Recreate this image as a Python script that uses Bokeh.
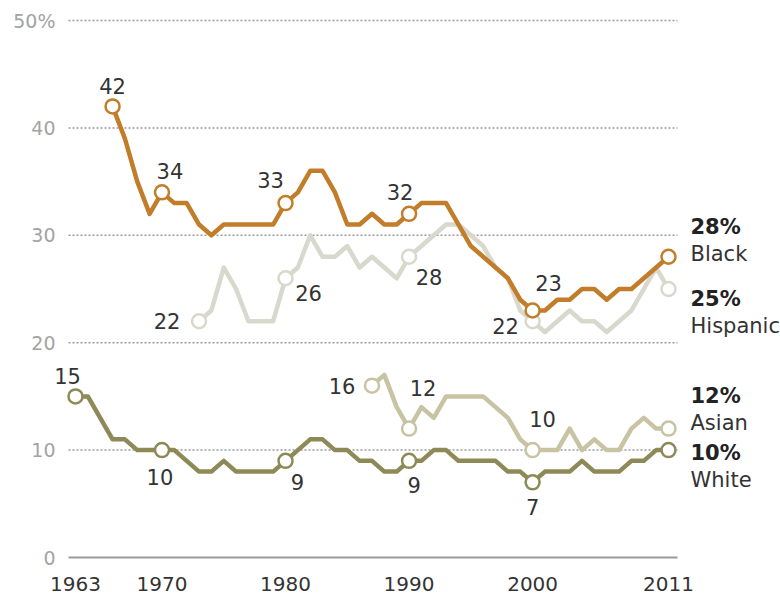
from bokeh.plotting import figure
from bokeh.models import Range1d, ColumnDataSource, LabelSet, Label
from bokeh.core.properties import value
from bokeh.embed import file_html
from bokeh.resources import INLINE

# ---- data (percent) ----
black_years = list(range(1966, 2012))
black = [42, 39, 35, 32, 34, 33, 33, 31, 30, 31, 31, 31, 31, 31, 33, 34, 36, 36, 34, 31,
         31, 32, 31, 31, 32, 33, 33, 33, 31, 29, 28, 27, 26, 24, 23, 23, 24, 24, 25, 25,
         24, 25, 25, 26, 27, 28]
hispanic_years = list(range(1973, 2012))
hispanic = [22, 23, 27, 25, 22, 22, 22, 26, 27, 30, 28, 28, 29, 27, 28, 27, 26, 28, 29, 30,
            31, 31, 30, 29, 27, 26, 23, 22, 21, 22, 23, 22, 22, 21, 22, 23, 25, 27, 25]
asian_years = list(range(1987, 2012))
asian = [16, 17, 14, 12, 14, 13, 15, 15, 15, 15, 14, 13, 11, 10, 10, 10, 12, 10, 11, 10,
         10, 12, 13, 12, 12]
white_years = list(range(1963, 2012))
white = [15, 15, 13, 11, 11, 10, 10, 10, 10, 9, 8, 8, 9, 8, 8, 8, 8, 9, 10, 11,
         11, 10, 10, 9, 9, 8, 8, 9, 9, 10, 10, 9, 9, 9, 9, 8, 8, 7, 8, 8,
         8, 9, 8, 8, 8, 9, 9, 10, 10]

marked_black = [1966, 1970, 1980, 1990, 2000]
marked_hispanic = [1973, 1980, 1990, 2000]
marked_asian = [1987, 1990, 2000]
marked_white = [1963, 1970, 1980, 1990, 2000]

x_ticks = [1963, 1970, 1980, 1990, 2000, 2011]
y_ticks = [0, 10, 20, 30, 40, 50]
y_tick_labels = ["0", "10", "20", "30", "40", "50%"]

# ---- style ----
FONT = "DejaVu Sans"
C_BLACK = "#c27d2a"
C_HISP = "#d8d8cc"
C_ASIAN = "#c8c3a2"
C_WHITE = "#8e8a58"
TXT = "#333333"

# label offsets (screen px, x right / y up) for marked points
off_black = [(0, 20), (8, 21), (-15, 23), (-9, 22), (16, 27)]
off_hisp = [(-32, 0), (23, -15), (20, -20), (-27, -5)]
off_asian = [(-30, 0), (14, 41), (10, 31)]
off_white = [(-8, 20), (-2, -27), (12, -21), (5, -24), (0, -25)]

# end labels: (pct y offset, name y offset)
end_offsets = {"Black": (30, 3), "Hispanic": (-10, -37), "Asian": (33, 6), "White": (-3, -30)}

W, H = 780, 597
X_FIRST_PX, X_LAST_PX = 75, 668
Y_ZERO_PX, Y_TOP_PX = 557, 20
PXY = (X_LAST_PX - X_FIRST_PX) / (x_ticks[-1] - x_ticks[0])
PXU = (Y_ZERO_PX - Y_TOP_PX) / (y_ticks[-1] - y_ticks[0])

x_start = x_ticks[0] - X_FIRST_PX / PXY
x_end = x_ticks[0] + (W - X_FIRST_PX) / PXY
y_end = Y_ZERO_PX / PXU
y_start = -(H - Y_ZERO_PX) / PXU

grid_x0 = x_ticks[0] - 7 / PXY
grid_x1 = x_ticks[-1] + 9 / PXY

p = figure(width=W, height=H, output_backend="svg", toolbar_location=None,
           x_range=Range1d(x_start, x_end), y_range=Range1d(y_start, y_end),
           x_axis_location=None, y_axis_location=None,
           min_border=0, min_border_left=0, min_border_right=0,
           min_border_top=0, min_border_bottom=0)
p.outline_line_color = None
p.background_fill_color = "white"
p.border_fill_color = "white"
p.grid.visible = False

# gridlines (dotted) and solid zero line
gy = [t for t in y_ticks if t > 0]
p.segment(x0=[grid_x0] * len(gy), y0=gy, x1=[grid_x1] * len(gy), y1=gy,
          line_color="#9a9a9a", line_width=1.5, line_dash="2 2")
p.segment(x0=[grid_x0], y0=[0], x1=[grid_x1], y1=[0], line_color="#9a9a9a", line_width=2)

# y tick labels
p.text(x=[grid_x0 - 13 / PXY] * len(y_ticks), y=y_ticks, text=y_tick_labels,
       text_align="right", text_baseline="middle", text_font=value(FONT),
       text_font_size="19px", text_color="#a3a3a3")
# x tick labels
p.text(x=x_ticks, y=[-26 / PXU] * len(x_ticks), text=[str(t) for t in x_ticks],
       text_align="center", text_baseline="middle", text_font=value(FONT),
       text_font_size="20px", text_color=TXT)

series = [
    ("White", white_years, white, C_WHITE, marked_white, off_white),
    ("Asian", asian_years, asian, C_ASIAN, marked_asian, off_asian),
    ("Hispanic", hispanic_years, hispanic, C_HISP, marked_hispanic, off_hisp),
    ("Black", black_years, black, C_BLACK, marked_black, off_black),
]

for name, yrs, vals, col, marked, offs in series:
    p.line(yrs, vals, line_color=col, line_width=4.5, line_join="round")

for name, yrs, vals, col, marked, offs in series:
    lookup = dict(zip(yrs, vals))
    mx = marked + [yrs[-1]]
    my = [lookup[m] for m in mx]
    p.scatter(mx, my, size=14, fill_color="white", line_color=col, line_width=2.5)
    src = ColumnDataSource(dict(
        x=marked, y=[lookup[m] for m in marked],
        t=[str(lookup[m]) for m in marked],
        dx=[o[0] for o in offs], dy=[o[1] for o in offs]))
    p.add_layout(LabelSet(x="x", y="y", text="t", source=src, x_offset="dx", y_offset="dy",
                          text_align="center", text_baseline="middle",
                          text_font=value(FONT), text_font_size="21px", text_color=TXT))
    po, no = end_offsets[name]
    p.add_layout(Label(x=yrs[-1], y=vals[-1], x_offset=22, y_offset=po,
                       text=f"{vals[-1]}%", text_font=FONT, text_font_size="21px",
                       text_font_style="bold", text_color="#222222",
                       text_align="left", text_baseline="middle"))
    p.add_layout(Label(x=yrs[-1], y=vals[-1], x_offset=22, y_offset=no,
                       text=name, text_font=FONT, text_font_size="21px",
                       text_color=TXT, text_align="left", text_baseline="middle"))

open("out.html", "w").write(file_html(p, INLINE))
